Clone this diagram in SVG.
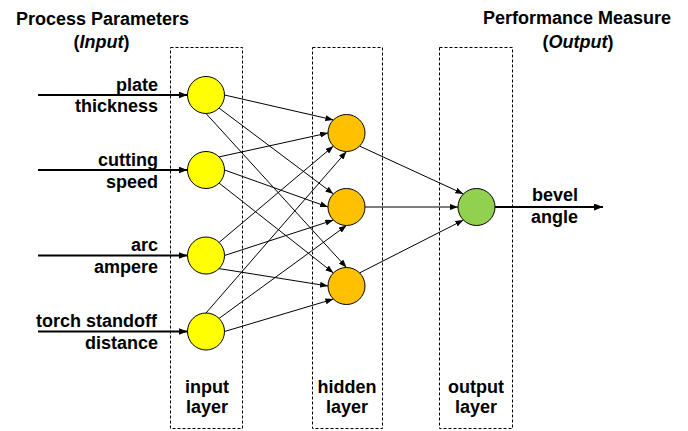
<svg xmlns="http://www.w3.org/2000/svg" width="688" height="431" viewBox="0 0 688 431">
<defs>
<style>
.box{fill:none;stroke:#000;stroke-width:1;stroke-dasharray:3,2}
.nd{stroke:#000;stroke-width:1}
.in{fill:#FFFF00}
.hd{fill:#FFC000}
.ou{fill:#92D050}
.c{stroke:#000;stroke-width:1;fill:none;marker-end:url(#ah)}
.t{stroke:#000;stroke-width:2;fill:none;marker-end:url(#aht)}
text{font-family:"Liberation Sans",Arial,sans-serif;font-weight:bold;font-size:18px;fill:#000}
.e{text-anchor:end}
.m{text-anchor:middle}
</style>
<marker id="ah" markerUnits="userSpaceOnUse" markerWidth="8" markerHeight="6" refX="8" refY="3" orient="auto">
<path d="M0,0 L8,3 L0,6 z" fill="#000"/>
</marker>
<marker id="aht" markerUnits="userSpaceOnUse" markerWidth="9" markerHeight="7" refX="9" refY="3.5" orient="auto">
<path d="M0,0 L9,3.5 L0,7 z" fill="#000"/>
</marker>
</defs>
<rect width="688" height="431" fill="#fff"/>

<g id="titles">
<text class="m" x="102.5" y="25">Process Parameters</text>
<text class="m" x="101.5" y="48">(<tspan font-style="italic">Input</tspan>)</text>
<text class="m" x="577" y="24">Performance Measure</text>
<text class="m" x="578" y="48">(<tspan font-style="italic">Output</tspan>)</text>
</g>

<g id="layers">
<rect class="box" x="170.5" y="47.5" width="72" height="381"/>
<rect class="box" x="312.5" y="47.5" width="70" height="381"/>
<rect class="box" x="439.5" y="47.5" width="73" height="381"/>
<text class="m" x="207" y="392.5">input</text>
<text class="m" x="207" y="413">layer</text>
<text class="m" x="347" y="392.5">hidden</text>
<text class="m" x="347" y="413">layer</text>
<text class="m" x="476" y="392.5">output</text>
<text class="m" x="476" y="413">layer</text>
</g>

<g id="connectors">
<line class="t" x1="38" y1="95" x2="187.5" y2="95"/>
<line class="t" x1="38" y1="170" x2="187.5" y2="170"/>
<line class="t" x1="38" y1="255.5" x2="187.5" y2="255.5"/>
<line class="t" x1="38" y1="331.5" x2="187.5" y2="331.5"/>

<line class="c" x1="224.5" y1="95" x2="333.4" y2="119.9"/>
<line class="c" x1="219.1" y1="108.1" x2="333.4" y2="193.9"/>
<line class="c" x1="206" y1="113.5" x2="346.5" y2="267.5"/>

<line class="c" x1="219.1" y1="156.9" x2="328" y2="133"/>
<line class="c" x1="224.5" y1="170" x2="328" y2="207"/>
<line class="c" x1="219.1" y1="183.1" x2="333.4" y2="272.9"/>

<line class="c" x1="219.1" y1="242.4" x2="333.4" y2="146.1"/>
<line class="c" x1="224.5" y1="255.5" x2="333.4" y2="220.1"/>
<line class="c" x1="219.1" y1="268.6" x2="328" y2="286"/>

<line class="c" x1="206" y1="313" x2="346.5" y2="151.5"/>
<line class="c" x1="219.1" y1="318.4" x2="346.5" y2="225.5"/>
<line class="c" x1="224.5" y1="331.5" x2="333.4" y2="299.1"/>

<line class="c" x1="359.6" y1="146.1" x2="463.4" y2="193.9"/>
<line class="c" x1="365" y1="207" x2="458" y2="207"/>
<line class="c" x1="359.6" y1="272.9" x2="463.4" y2="220.1"/>

<line class="t" x1="495" y1="207" x2="603" y2="207"/>
</g>

<g id="input-plate-thickness">
<circle class="nd in" cx="206" cy="95" r="18.5"/>
<text class="e" x="158" y="91">plate</text>
<text class="e" x="158" y="112">thickness</text>
</g>
<g id="input-cutting-speed">
<circle class="nd in" cx="206" cy="170" r="18.5"/>
<text class="e" x="158" y="166">cutting</text>
<text class="e" x="158" y="188">speed</text>
</g>
<g id="input-arc-ampere">
<circle class="nd in" cx="206" cy="255.5" r="18.5"/>
<text class="e" x="158" y="251">arc</text>
<text class="e" x="158" y="273">ampere</text>
</g>
<g id="input-torch-standoff">
<circle class="nd in" cx="206" cy="331.5" r="18.5"/>
<text class="e" x="157" y="327">torch standoff</text>
<text class="e" x="158" y="348.5">distance</text>
</g>

<g id="hidden-1"><circle class="nd hd" cx="346.5" cy="133" r="18.5"/></g>
<g id="hidden-2"><circle class="nd hd" cx="346.5" cy="207" r="18.5"/></g>
<g id="hidden-3"><circle class="nd hd" cx="346.5" cy="286" r="18.5"/></g>

<g id="output-bevel-angle">
<circle class="nd ou" cx="476.5" cy="207" r="18.5"/>
<text class="m" x="555" y="201">bevel</text>
<text class="m" x="554.5" y="223">angle</text>
</g>
</svg>
